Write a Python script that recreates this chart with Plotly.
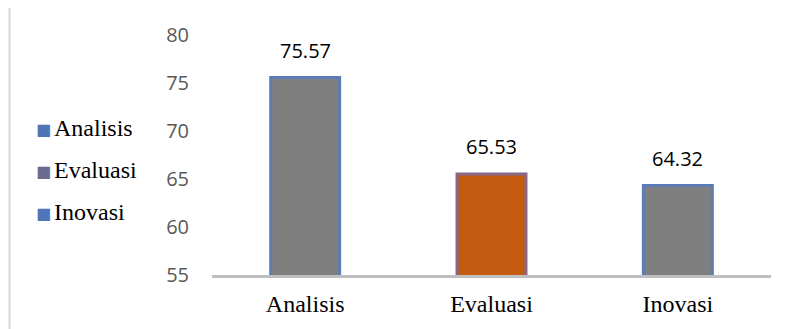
import plotly.graph_objects as go

categories = ["Analisis", "Evaluasi", "Inovasi"]
values = [75.57, 65.53, 64.32]
value_labels = ["75.57", "65.53", "64.32"]
bar_fill = ["#7F7F7F", "#C55A11", "#7F7F7F"]
bar_edge = ["#5B7CB6", "#86688A", "#5B7CB6"]
legend_names = ["Analisis", "Evaluasi", "Inovasi"]
legend_colors = ["#4F74B8", "#6B6A8F", "#4F74B8"]
y_ticks = [55, 60, 65, 70, 75, 80]

W, H = 788, 329
L, R, T, B = 212, 17, 35, 54
pw = W - L - R
ph = H - T - B


def px_x(x):
    return (x - L) / pw


def px_y(y):
    return (H - B - y) / ph


fig = go.Figure()
fig.add_trace(go.Bar(
    x=categories, y=values, width=0.37,
    marker=dict(color=bar_fill, line=dict(color=bar_edge, width=3)),
    showlegend=False, hoverinfo="skip",
))

for c, v, t in zip(categories, values, value_labels):
    fig.add_annotation(x=c, y=v, text=t, showarrow=False, yshift=27,
                       font=dict(family="Open Sans", size=20, color="#000000"))

# legend (left side)
for i, (n, c) in enumerate(zip(legend_names, legend_colors)):
    yc = 128 + 42 * i
    fig.add_annotation(xref="paper", yref="paper", x=px_x(44), y=px_y(yc + 1),
                       text="■", showarrow=False, xanchor="center", yanchor="middle",
                       font=dict(family="DejaVu Sans", size=16, color=c))
    fig.add_annotation(xref="paper", yref="paper", x=px_x(52), y=px_y(yc),
                       text=n, showarrow=False, xanchor="left", yanchor="middle",
                       font=dict(family="Liberation Serif", size=24, color="#000000"))

fig.add_shape(type="line", xref="paper", yref="paper",
              x0=px_x(9.5), x1=px_x(9.5), y0=px_y(8), y1=px_y(H),
              line=dict(color="#D9D9D9", width=2))

fig.update_layout(
    width=W, height=H,
    margin=dict(l=L, r=R, t=T, b=B, autoexpand=False),
    paper_bgcolor="white", plot_bgcolor="white",
    showlegend=False,
    xaxis=dict(showline=True, linecolor="#BFBFBF", linewidth=3, ticks="",
               ticklabelstandoff=5,
               tickfont=dict(family="Liberation Serif", size=24, color="#000000"),
               showgrid=False, zeroline=False, fixedrange=True),
    yaxis=dict(range=[55, 80], tickvals=y_ticks, showgrid=False, zeroline=False,
               showline=False, ticks="", ticklabelstandoff=22,
               tickfont=dict(family="Open Sans", size=20, color="#595959")),
)
fig.write_html("out.html")
